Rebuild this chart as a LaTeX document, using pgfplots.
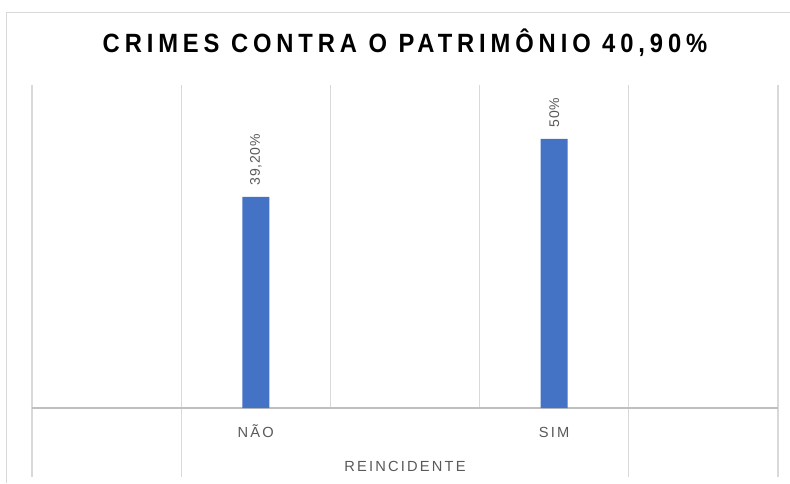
\documentclass[border=0pt]{standalone}
\usepackage{fontspec}
\setmainfont{Liberation Sans}
\newfontfamily\titlefont[FakeStretch=0.9,LetterSpace=18.5]{Liberation Sans}
\newfontfamily\lblfont[LetterSpace=15]{Liberation Sans}
\newfontfamily\valfont[LetterSpace=5]{Liberation Sans}
\usepackage{pgfplots}
\pgfplotsset{compat=1.18}
\definecolor{barblue}{HTML}{4472C4}
\definecolor{gridgray}{HTML}{D9D9D9}
\definecolor{axisgray}{HTML}{BFBFBF}
\definecolor{txtgray}{HTML}{595959}
\begin{document}
\begin{tikzpicture}
% 1px = 0.75pt, axis origin at the baseline / left gridline
\useasboundingbox (-24pt,-56.25pt) rectangle (568.5pt,306pt);
\draw[gridgray] (-19.5pt,-56.25pt) -- (-19.5pt,297pt) -- (568.5pt,297pt);
\begin{axis}[
  scale only axis,
  width=559.5pt,
  height=242.25pt,
  xmin=0, xmax=5,
  ymin=0, ymax=60,
  enlargelimits=false,
  axis x line*=bottom,
  axis y line=none,
  x axis line style={axisgray, line width=0.8pt, -},
  xtick={0,1,4,5},
  xticklabels={},
  minor xtick={2,3},
  xmajorgrids, xminorgrids,
  grid style={gridgray, line width=0.8pt},
  minor grid style={gridgray, line width=0.8pt},
  tick align=outside,
  major tick length=51.75pt,
  minor tick length=0pt,
  tick style={gridgray, line width=0.8pt},
  extra x ticks={1.5,3.5},
  extra x tick labels={NÃO,SIM},
  extra x tick style={
    major tick length=0pt,
    grid=none,
    xticklabel style={anchor=base, yshift=-21.75pt},
  },
  ticklabel style={font=\lblfont\fontsize{11}{13}\selectfont, text=txtgray},
  xlabel={REINCIDENTE},
  xlabel style={at={(axis description cs:0.5,0)}, anchor=base, yshift=-47.25pt,
    font=\lblfont\fontsize{11}{13}\selectfont, text=txtgray},
  title={CRIMES CONTRA O PATRIMÔNIO 40,90\%},
  title style={at={(axis description cs:0.5,1)}, anchor=base, yshift=18.5pt,
    font=\titlefont\bfseries\fontsize{19.8}{23}\selectfont, text=black},
  point meta=explicit symbolic,
  nodes near coords,
  every node near coord/.append style={rotate=90, anchor=west, inner xsep=8.5pt,
    font=\valfont\fontsize{10.5}{12}\selectfont, text=txtgray},
]
\addplot[ybar, bar width=20.25pt, fill=barblue, draw=none]
  coordinates {(1.5,39.2) [39,20\%] (3.5,50) [50\%]};
\end{axis}
\end{tikzpicture}
\end{document}
